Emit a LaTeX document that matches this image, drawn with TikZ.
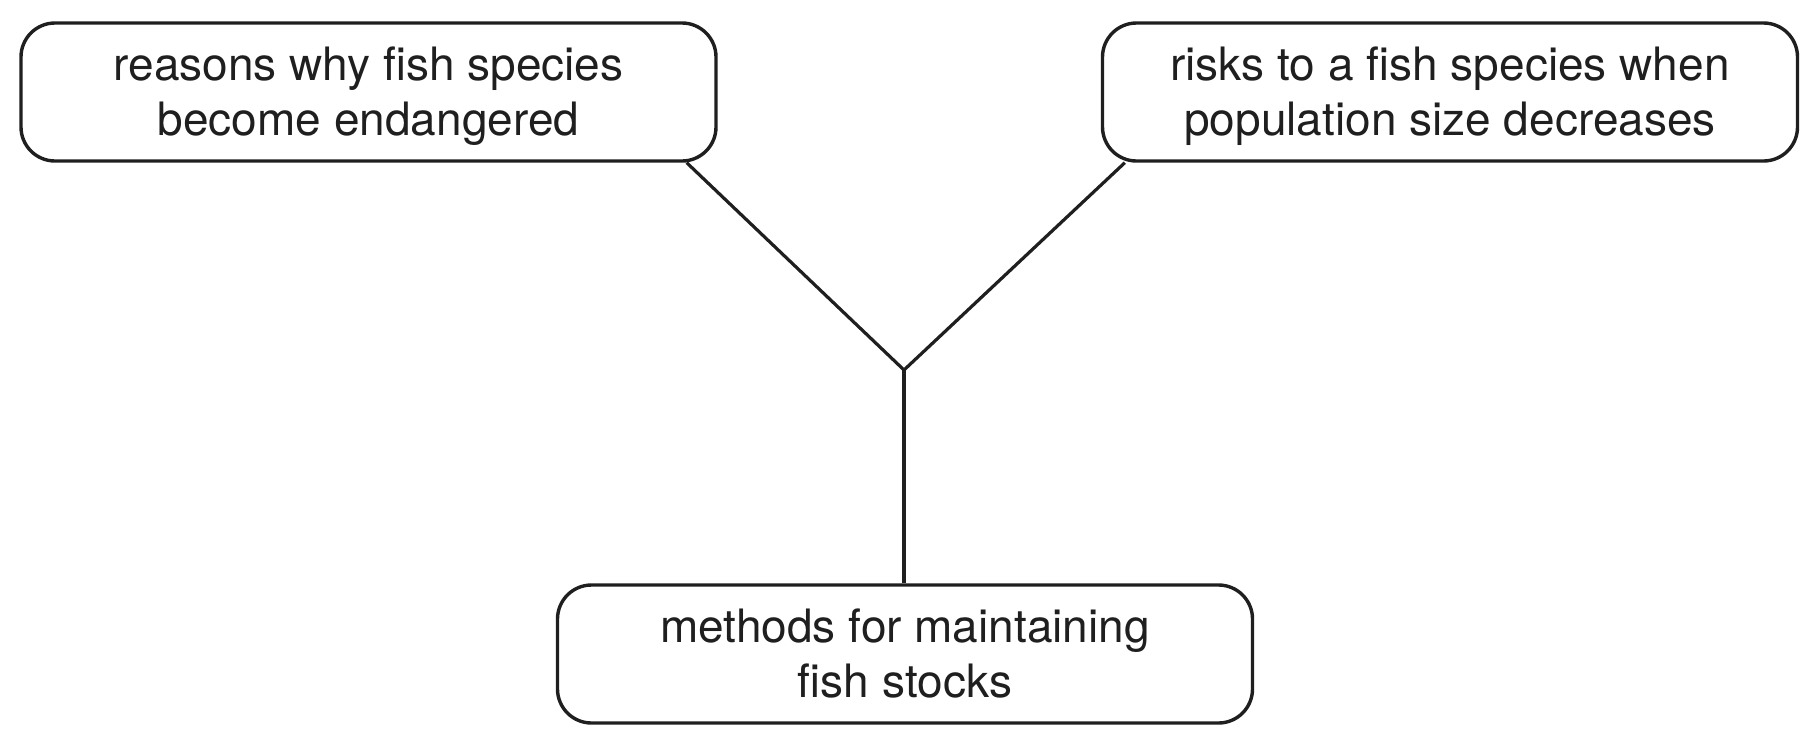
\documentclass[tikz,border=0pt]{standalone}
\usepackage{fontspec}
\setmainfont{TeX Gyre Heros}
\newcommand{\tstrut}{\rule{0pt}{42pt}}
\newcommand{\bstrut}{\rule[-10pt]{0pt}{10pt}}
\begin{document}
\begin{tikzpicture}[x=1pt,y=-1pt,
  box/.style={draw=black!88, line width=3.4pt, rounded corners=34pt, minimum width=695pt, minimum height=138pt, inner sep=0pt, align=center, font=\fontsize{46}{55.5}\selectfont, text=black!88},
  link/.style={draw=black!88, line width=3.2pt}]
\useasboundingbox (0,0) rectangle (1820,745);
\node[box] (b1) at (368.5,92) {\tstrut reasons why fish species\\become endangered\bstrut};
\node[box] (b2) at (1450,92) {\tstrut risks to a fish species when\\population size decreases\bstrut};
\node[box] (b3) at (905,654) {\tstrut methods for maintaining\\fish stocks\bstrut};
\coordinate (j) at (904,370);
\draw[link] ([xshift=-31pt]b1.south east) -- (j) -- ([xshift=24pt]b2.south west);
\draw[link] (j) -- (j |- b3.north);
\end{tikzpicture}
\end{document}
